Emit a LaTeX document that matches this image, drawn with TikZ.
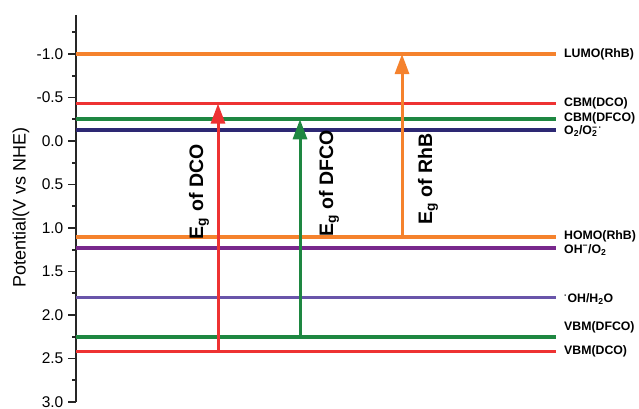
\documentclass[tikz,border=0pt]{standalone}
\usepackage{fontspec}
\setmainfont{Liberation Sans}
\usetikzlibrary{arrows.meta}
\definecolor{corange}{RGB}{245,130,45}
\definecolor{cred}{RGB}{238,50,50}
\definecolor{cgreen}{RGB}{30,135,65}
\definecolor{cnavy}{RGB}{45,40,115}
\definecolor{cpurple}{RGB}{120,40,140}
\definecolor{cviolet}{RGB}{105,85,170}
\begin{document}
\begin{tikzpicture}[x=1pt,y=-87pt,
  level/.style={line width=3.6pt},
  lvlabel/.style={anchor=west,font=\fontsize{12.3}{14}\selectfont\bfseries,inner sep=0pt},
  gaparrow/.style={line width=3pt,-{Triangle[length=20pt,width=14pt]}},
  gaplabel/.style={rotate=90,font=\fontsize{19.5}{22}\selectfont\bfseries,inner sep=0pt},
  ticklabel/.style={anchor=east,font=\fontsize{15.5}{18}\selectfont,inner sep=0pt},
  axisline/.style={line width=1.6pt,black!85}]
\useasboundingbox (0,-1.621) rectangle (639,3.080);

% axis
\coordinate (axtop) at (76,-1.45);
\coordinate (axbot) at (76,3.0);
\draw[axisline] (axtop) -- (axbot);
\foreach \v/\t [count=\i] in {-1/-1.0,-0.5/-0.5,0/0.0,0.5/0.5,1/1.0,1.5/1.5,2/2.0,2.5/2.5,3/3.0}{
  \draw[axisline] (68,\v) -- (76,\v);
  \node[ticklabel] (tick\i) at (63.5,\v) {\t};
}
\foreach \v in {-1.25,-0.75,-0.25,0.25,0.75,1.25,1.75,2.25,2.75}{
  \draw[axisline] (72,\v) -- (76,\v);
}
\node[rotate=90,font=\fontsize{18}{20}\selectfont] (ytitle) at (21,0.76) {Potential(V vs NHE)};

% levels
\foreach \nm/\v/\c/\ly/\lab in {
  lumo/-1.0/corange/-1.0/{LUMO(RhB)},
  cbmdco/-0.43/cred/-0.43/{CBM(DCO)},
  cbmdfco/-0.25/cgreen/-0.26/{CBM(DFCO)},
  otwo/-0.13/cnavy/-0.11/{O\textsubscript{2}/O\rlap{\textsubscript{2}}\textsuperscript{−\,·}},
  homo/1.1/corange/1.1/{HOMO(RhB)},
  ohm/1.23/cpurple/1.25/{OH\textsuperscript{−}/O\textsubscript{2}},
  ohw/1.8/cviolet/1.82/{\textsuperscript{·}OH/H\textsubscript{2}O},
  vbmdfco/2.25/cgreen/2.14/{VBM(DFCO)},
  vbmdco/2.42/cred/2.42/{VBM(DCO)}}{
  \coordinate (\nm L) at (76,\v);
  \coordinate (\nm R) at (556,\v);
  \draw[level,\c] (\nm L) -- (\nm R);
  \node[lvlabel] (\nm lab) at (564,\ly) {\lab};
}

% arrows
\coordinate (dcoB) at (218,2.42);
\coordinate (dcoT) at (218,-0.43);
\coordinate (dfcoB) at (300,2.25);
\coordinate (dfcoT) at (300,-0.25);
\coordinate (rhbB) at (402,1.1);
\coordinate (rhbT) at (402,-1.0);
\draw[gaparrow,cred] (dcoB) -- (dcoT);
\draw[gaparrow,cgreen] (dfcoB) -- (dfcoT);
\draw[gaparrow,corange] (rhbB) -- (rhbT);

\node[gaplabel] (dcolab) at (199,0.584) {E\textsubscript{g} of DCO};
\node[gaplabel] (dfcolab) at (329,0.49) {E\textsubscript{g} of DFCO};
\node[gaplabel] (rhblab) at (428,0.44) {E\textsubscript{g} of RhB};
\end{tikzpicture}
\end{document}
